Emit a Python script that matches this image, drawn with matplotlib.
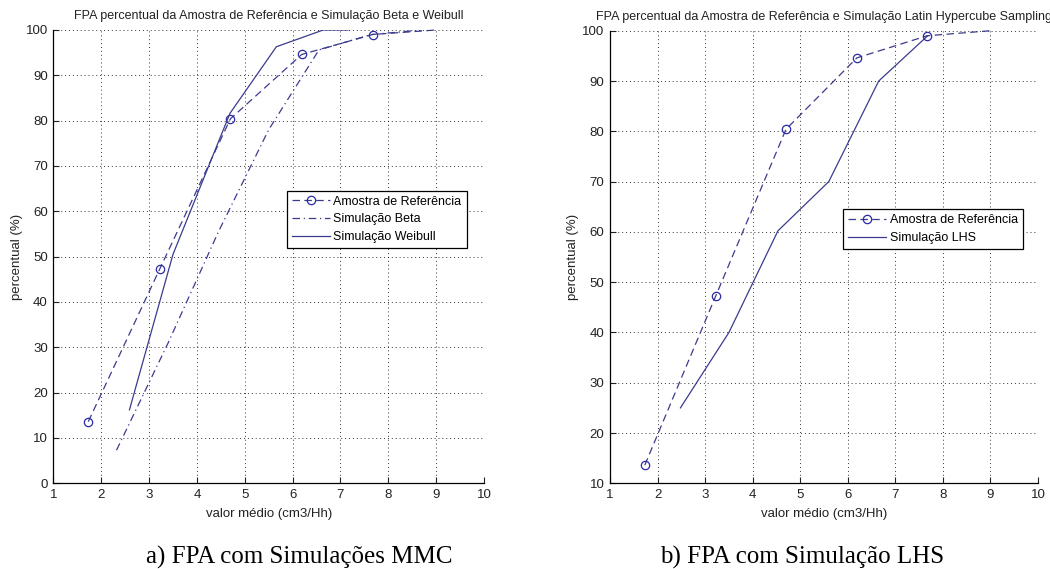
import matplotlib
matplotlib.use("Agg")
import matplotlib.pyplot as plt

plt.rcParams['font.family'] = ['Liberation Sans', 'DejaVu Sans']

# ---- data ----
ref_x = [1.73, 3.22, 4.70, 6.19, 7.67, 9.00]
ref_y = [13.6, 47.2, 80.4, 94.6, 99.0, 100.0]

beta_x = [2.32, 3.40, 4.45, 5.50, 6.55, 7.65, 8.70]
beta_y = [7.3, 31.0, 55.5, 78.0, 95.6, 99.0, 100.0]

weibull_x = [2.59, 3.50, 4.69, 5.66, 6.64, 7.16]
weibull_y = [16.2, 50.5, 81.6, 96.3, 100.0, 100.0]

lhs_x = [2.48, 3.50, 4.53, 5.60, 6.65, 7.68]
lhs_y = [25.0, 40.0, 60.2, 70.0, 90.0, 99.0]

x_ticks = list(range(1, 11))
y_ticks_a = list(range(0, 101, 10))
y_ticks_b = list(range(10, 101, 10))

title_a = "FPA percentual da Amostra de Referência e Simulação Beta e Weibull"
title_b = "FPA percentual da Amostra de Referência e Simulação Latin Hypercube Sampling"
caption_a = "a) FPA com Simulações MMC"
caption_b = "b) FPA com Simulação LHS"
xlabel = "valor médio (cm3/Hh)"
ylabel = "percentual (%)"

LINE = '#3b3b8e'
MARK = '#2b2ba6'
TXT = '#222222'
DASH = (0, (6, 3.5))
DASHDOT = (0, (6, 3, 1, 3))

fig = plt.figure(figsize=(10.5, 5.69), dpi=100)
axA = fig.add_axes([0.0508, 0.1506, 0.4102, 0.7967])
axB = fig.add_axes([0.5810, 0.1506, 0.4076, 0.7954])


def style(ax, yticks):
    ax.set_xlim(1, 10)
    ax.set_ylim(yticks[0], yticks[-1])
    ax.set_xticks(x_ticks)
    ax.set_yticks(yticks)
    ax.grid(True, color='black', linestyle=(0, (1, 3)), linewidth=0.7, alpha=0.8)
    ax.set_axisbelow(True)
    for s in ('top', 'right'):
        ax.spines[s].set_visible(False)
    for s in ('left', 'bottom'):
        ax.spines[s].set_linewidth(0.9)
    ax.tick_params(direction='in', length=4, width=0.8, labelsize=9.5, pad=4, colors=TXT)
    ax.set_xlabel(xlabel, fontsize=9.5, labelpad=5, color=TXT)
    ax.set_ylabel(ylabel, fontsize=9.5, labelpad=2, color=TXT)


def legend(ax, anchor):
    leg = ax.legend(loc='upper left', bbox_to_anchor=anchor, borderaxespad=0,
                    fontsize=9, handlelength=3.0, handletextpad=0.3, labelspacing=0.45,
                    borderpad=0.4, fancybox=False, framealpha=1, edgecolor='black')
    leg.get_frame().set_linewidth(0.9)
    return leg


# ---- chart a ----
axA.plot(ref_x, ref_y, color=LINE, linestyle=DASH, linewidth=0.9,
         marker='o', markersize=6, markerfacecolor='none', markeredgecolor=MARK,
         markeredgewidth=0.9, markevery=[0, 1, 2, 3, 4], label='Amostra de Referência', clip_on=False)
axA.plot(beta_x, beta_y, color=LINE, linestyle=DASHDOT, linewidth=0.9, label='Simulação Beta')
axA.plot(weibull_x, weibull_y, color=LINE, linestyle='-', linewidth=0.9, label='Simulação Weibull')
style(axA, y_ticks_a)
axA.set_title(title_a, fontsize=9, pad=8, color=TXT)
legend(axA, (0.543, 0.6455))

# ---- chart b ----
axB.plot(ref_x, ref_y, color=LINE, linestyle=DASH, linewidth=0.9,
         marker='o', markersize=6, markerfacecolor='none', markeredgecolor=MARK,
         markeredgewidth=0.9, markevery=[0, 1, 2, 3, 4], label='Amostra de Referência', clip_on=False)
axB.plot(lhs_x, lhs_y, color=LINE, linestyle='-', linewidth=0.9, label='Simulação LHS')
style(axB, y_ticks_b)
axB.set_title(title_b, fontsize=9, pad=8, color=TXT)
legend(axB, (0.545, 0.6054))

# ---- captions ----
fig.text(0.285, 0.020, caption_a, family=['Liberation Serif', 'DejaVu Serif'],
         fontsize=18, ha='center', va='center', color='black')
fig.text(0.764, 0.020, caption_b, family=['Liberation Serif', 'DejaVu Serif'],
         fontsize=18, ha='center', va='center', color='black')

fig.savefig('out.png', dpi=100, facecolor='white')
